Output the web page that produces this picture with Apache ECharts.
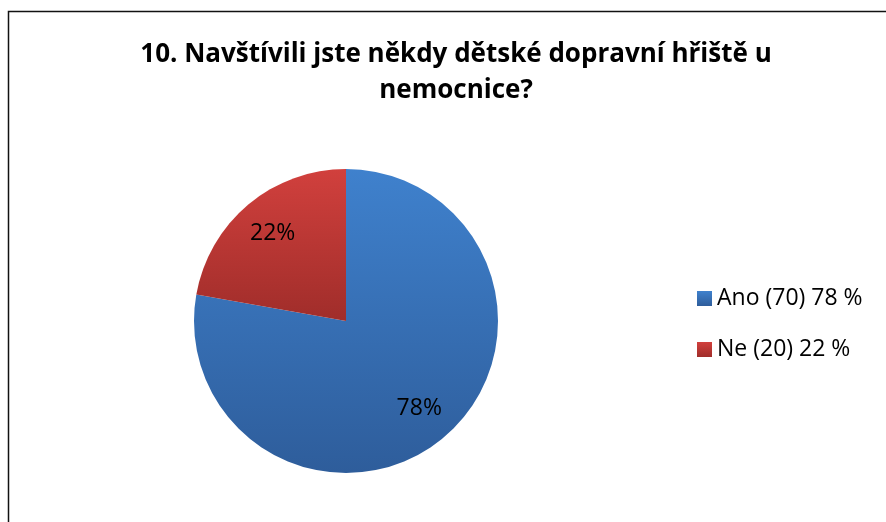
<!DOCTYPE html>
<html>
<head>
<meta charset="utf-8">
<script src="https://cdn.jsdelivr.net/npm/echarts@6/dist/echarts.min.js"></script>
<style>
  html, body { margin: 0; padding: 0; background: #fff; }
  #container { width: 886px; height: 522px; }
</style>
</head>
<body>
<div id="container"></div>
<script>
var titleText = '10. Navštívili jste někdy dětské dopravní hřiště u\nnemocnice?';
var categories = ['Ano (70) 78 %', 'Ne (20) 22 %'];
var counts = [70, 20];
var topColors = ['#3f81cd', '#d1403d'];
var bottomColors = ['#2e5d9b', '#a02d2a'];

var myChart = echarts.init(document.getElementById('container'));

var pieData = categories.map(function (name, i) {
    return {
        name: name,
        value: counts[i],
        itemStyle: {
            color: new echarts.graphic.LinearGradient(0, 0, 0, 1, [
                { offset: 0, color: topColors[i] },
                { offset: 1, color: bottomColors[i] }
            ])
        }
    };
});

var labelData = categories.map(function (name, i) {
    return { name: name, value: counts[i] };
});

option = {
    backgroundColor: '#fff',
    title: {
        text: titleText,
        left: 456,
        top: 37,
        textAlign: 'center',
        padding: 0,
        textStyle: {
            fontFamily: 'Open Sans',
            fontWeight: 'bold',
            fontSize: 26,
            lineHeight: 36,
            color: '#000'
        }
    },
    legend: {
        orient: 'vertical',
        left: 697,
        top: 287,
        padding: 0,
        icon: 'rect',
        itemWidth: 15,
        itemHeight: 15,
        itemGap: 28,
        data: categories,
        textStyle: {
            fontFamily: 'Open Sans',
            fontSize: 23,
            color: '#000'
        }
    },
    graphic: [{
        type: 'rect',
        silent: true,
        shape: { x: 8.5, y: 11.5, width: 1000, height: 1000 },
        style: { fill: 'none', stroke: '#111', lineWidth: 1.5 }
    }],
    series: [{
        name: 'main',
        type: 'pie',
        center: [346, 321],
        radius: [0, 152],
        startAngle: 90,
        clockwise: true,
        animation: false,
        percentPrecision: 0,
        label: { show: false },
        labelLine: { show: false },
        data: pieData
    }, {
        name: 'labels',
        type: 'pie',
        center: [346, 321],
        radius: [70, 152],
        startAngle: 90,
        clockwise: true,
        animation: false,
        silent: true,
        percentPrecision: 0,
        itemStyle: { color: 'rgba(0,0,0,0)' },
        label: {
            show: true,
            position: 'inside',
            formatter: '{d}%',
            fontFamily: 'Open Sans',
            fontSize: 23,
            color: '#000'
        },
        labelLine: { show: false },
        data: labelData
    }]
};

myChart.setOption(option);
</script>
</body>
</html>
